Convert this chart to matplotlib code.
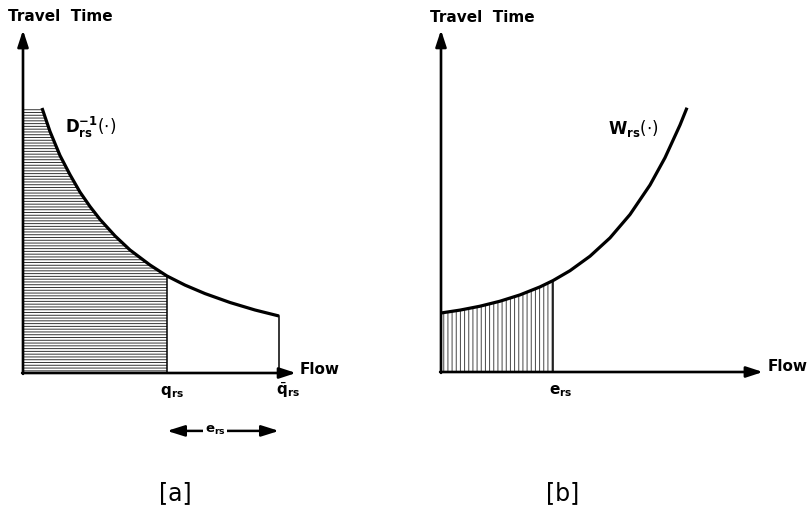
import numpy as np
import matplotlib
matplotlib.use("Agg")
import matplotlib.pyplot as plt

# ---- data (flow, travel time) in arbitrary units ----
# [a] inverse demand curve D_rs^-1(.)
demand_flow = [0.633, 0.90, 1.233, 1.567, 1.90, 2.233, 2.567, 3.067, 3.567,
               4.233, 4.80, 5.40, 6.067, 6.90, 7.733, 8.533]
demand_time = [8.833, 8.05, 7.25, 6.61, 6.03, 5.55, 5.12, 4.57, 4.10,
               3.60, 3.233, 2.93, 2.647, 2.35, 2.10, 1.90]
q_rs = 4.80       # equilibrium flow
q_bar_rs = 8.533  # maximum flow
# [b] excess demand cost curve W_rs(.)
w_flow = [0.0, 0.633, 1.30, 1.967, 2.633, 3.30, 3.733, 4.30, 4.967, 5.633,
          6.30, 6.967, 7.467, 7.967, 8.20]
w_time = [1.967, 2.063, 2.193, 2.36, 2.57, 2.837, 3.047, 3.377, 3.86, 4.47,
          5.25, 6.233, 7.143, 8.233, 8.81]
e_rs = 3.733      # excess demand

plt.rcParams["hatch.linewidth"] = 0.7

W, H = 812, 505
fig = plt.figure(figsize=(W / 100, H / 100), dpi=100)

# one unit = 30 px in both panels
UNIT = 30.0


def make_axes(x0, y0, xmax, ymax):
    ax = fig.add_axes([x0 / W, (H - y0) / H, xmax * UNIT / W, ymax * UNIT / H])
    ax.set_xlim(0, xmax)
    ax.set_ylim(0, ymax)
    ax.axis("off")
    return ax


def draw_axes_arrows(ax, xmax, ymax):
    head = dict(arrowstyle="-|>,head_length=0.55,head_width=0.18", lw=1.9,
                color="black", mutation_scale=18, shrinkA=0, shrinkB=0)
    ax.annotate("", xy=(0, ymax), xytext=(0, -0.03), arrowprops=head,
                annotation_clip=False)
    ax.annotate("", xy=(xmax, 0), xytext=(-0.03, 0), arrowprops=head,
                annotation_clip=False)


bold = dict(fontsize=11, fontweight="bold", color="black")

# ---------------- panel [a] ----------------
ax_a = make_axes(23, 373, 9.1, 11.43)
dx = np.array(demand_flow)
dy = np.array(demand_time)

shade_mask = dx <= q_rs + 1e-9
sx = np.concatenate([[0.0], dx[shade_mask]])
sy = np.concatenate([[dy[0]], dy[shade_mask]])
ax_a.fill_between(sx, 0, sy, facecolor="white", edgecolor="#333333",
                  hatch="------", linewidth=0)

ax_a.plot(dx, dy, color="black", lw=2.3, solid_capstyle="butt",
          solid_joinstyle="round")
q_idx = int(np.argmin(np.abs(dx - q_rs)))
ax_a.plot([q_rs, q_rs], [0, dy[q_idx]], color="black", lw=1.1)
ax_a.plot([q_bar_rs, q_bar_rs], [0, dy[-1]], color="black", lw=1.1)
draw_axes_arrows(ax_a, 9.1, 11.43)

ax_a.text(1.23, 11.87, "Travel  Time", ha="center", va="center", **bold)
ax_a.text(9.23, 0.13, "Flow", ha="left", va="center", **bold)
ax_a.text(1.4, 8.17, r"$\mathbf{D}_{\mathbf{rs}}^{\mathbf{-1}}(\cdot)$",
          ha="left", va="center", fontsize=12, fontweight="bold")
ax_a.text(4.97, -0.62, r"$\mathbf{q}_{\mathbf{rs}}$", ha="center",
          va="center", **bold)
ax_a.text(8.85, -0.58, r"$\bar{\mathbf{q}}_{\mathbf{rs}}$", ha="center",
          va="center", **bold)

# e_rs span between q_rs and q_bar_rs
span_y = -1.93
ax_a.annotate("", xy=(q_bar_rs, span_y), xytext=(q_rs, span_y),
              arrowprops=dict(arrowstyle="<|-|>,head_length=0.7,head_width=0.22",
                              lw=1.8, color="black", mutation_scale=15,
                              shrinkA=0, shrinkB=0),
              annotation_clip=False)
ax_a.text(6.4, span_y, r"$\mathbf{e}_{\mathbf{rs}}$", ha="center", va="center",
          fontsize=9.5, fontweight="bold",
          bbox=dict(facecolor="white", edgecolor="none", pad=1.0))

ax_a.text(5.07, -4.0, "[a]", ha="center", va="center", fontsize=17)

# ---------------- panel [b] ----------------
ax_b = make_axes(441, 372, 10.73, 11.4)
wx = np.array(w_flow)
wy = np.array(w_time)

wmask = wx <= e_rs + 1e-9
ax_b.fill_between(wx[wmask], 0, wy[wmask], facecolor="white",
                  edgecolor="#444444", hatch="||||", linewidth=0)
ax_b.plot(wx, wy, color="black", lw=2.3, solid_capstyle="butt",
          solid_joinstyle="round")
e_idx = int(np.argmin(np.abs(wx - e_rs)))
ax_b.plot([e_rs, e_rs], [0, wy[e_idx]], color="black", lw=1.1)
draw_axes_arrows(ax_b, 10.73, 11.4)

ax_b.text(1.37, 11.83, "Travel  Time", ha="center", va="center", **bold)
ax_b.text(10.9, 0.17, "Flow", ha="left", va="center", **bold)
ax_b.text(5.57, 8.13, r"$\mathbf{W}_{\mathbf{rs}}(\cdot)$", ha="left",
          va="center", fontsize=12, fontweight="bold")
ax_b.text(4.0, -0.63, r"$\mathbf{e}_{\mathbf{rs}}$", ha="center", va="center",
          **bold)

ax_b.text(4.07, -4.03, "[b]", ha="center", va="center", fontsize=17)

fig.savefig("out.png", dpi=100, facecolor="white")
